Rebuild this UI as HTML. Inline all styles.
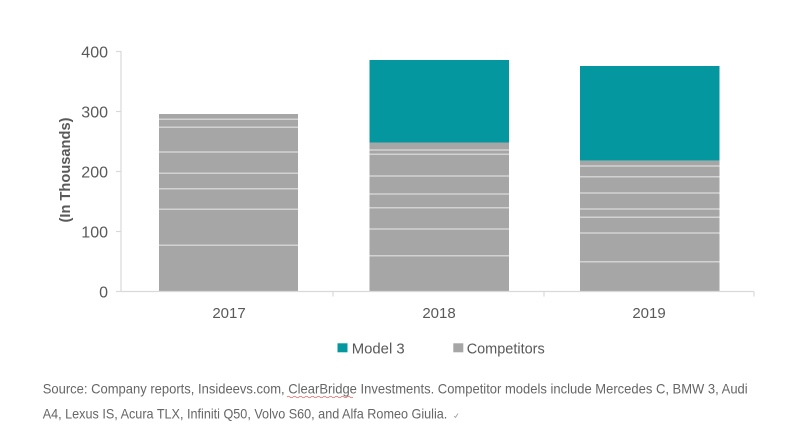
<!DOCTYPE html>
<html>
<head>
<meta charset="utf-8">
<style>
  html, body { margin:0; padding:0; background:#ffffff; }
  body { width:800px; height:447px; overflow:hidden; }
  svg { display:block; }
  text { font-family: "Liberation Sans", "DejaVu Sans", sans-serif; }
</style>
</head>
<body>
<svg width="800" height="447" viewBox="0 0 800 447" xmlns="http://www.w3.org/2000/svg">
  <rect x="0" y="0" width="800" height="447" fill="#ffffff"/>

  <!-- Y axis title -->
  <text x="0" y="0" transform="translate(70,170) rotate(-90)" text-anchor="middle" font-size="14.5" font-weight="bold" fill="#595959" textLength="105" lengthAdjust="spacingAndGlyphs">(In Thousands)</text>

  <!-- Y axis tick labels -->
  <g font-size="16" fill="#595959" text-anchor="end">
    <text x="108" y="57.5">400</text>
    <text x="108" y="117.5">300</text>
    <text x="108" y="177.5">200</text>
    <text x="108" y="237.5">100</text>
    <text x="108" y="297.5">0</text>
  </g>

  <!-- Bars -->
  <!-- 2017 -->
  <rect x="159" y="114" width="139" height="177" fill="#A6A6A6"/>
  <g stroke="#D2D2D2" stroke-width="1.5">
    <line x1="159" x2="298" y1="119.3" y2="119.3"/>
    <line x1="159" x2="298" y1="127.3" y2="127.3"/>
    <line x1="159" x2="298" y1="152" y2="152"/>
    <line x1="159" x2="298" y1="173.3" y2="173.3"/>
    <line x1="159" x2="298" y1="188.7" y2="188.7"/>
    <line x1="159" x2="298" y1="209.3" y2="209.3"/>
    <line x1="159" x2="298" y1="245.3" y2="245.3"/>
  </g>

  <!-- 2018 -->
  <rect x="369.5" y="60" width="139.5" height="82.5" fill="#05979F"/>
  <rect x="369.5" y="142.5" width="139.5" height="148.5" fill="#A6A6A6"/>
  <g stroke="#D2D2D2" stroke-width="1.5">
    <line x1="369.5" x2="509" y1="150" y2="150"/>
    <line x1="369.5" x2="509" y1="154.3" y2="154.3"/>
    <line x1="369.5" x2="509" y1="176" y2="176"/>
    <line x1="369.5" x2="509" y1="194" y2="194"/>
    <line x1="369.5" x2="509" y1="207.7" y2="207.7"/>
    <line x1="369.5" x2="509" y1="229" y2="229"/>
    <line x1="369.5" x2="509" y1="255.7" y2="255.7"/>
  </g>

  <!-- 2019 -->
  <rect x="580" y="66" width="139.5" height="94.7" fill="#05979F"/>
  <rect x="580" y="160.7" width="139.5" height="130.3" fill="#A6A6A6"/>
  <g stroke="#D2D2D2" stroke-width="1.5">
    <line x1="580" x2="719.5" y1="166" y2="166"/>
    <line x1="580" x2="719.5" y1="176.7" y2="176.7"/>
    <line x1="580" x2="719.5" y1="193" y2="193"/>
    <line x1="580" x2="719.5" y1="209" y2="209"/>
    <line x1="580" x2="719.5" y1="217.3" y2="217.3"/>
    <line x1="580" x2="719.5" y1="233" y2="233"/>
    <line x1="580" x2="719.5" y1="261.7" y2="261.7"/>
  </g>

  <!-- Axes -->
  <g stroke="#D9D9D9" stroke-width="1.2" fill="none">
    <line x1="121" y1="51" x2="121" y2="291.5"/>
    <line x1="116" y1="51.5" x2="121" y2="51.5"/>
    <line x1="116" y1="111.5" x2="121" y2="111.5"/>
    <line x1="116" y1="171.5" x2="121" y2="171.5"/>
    <line x1="116" y1="231.5" x2="121" y2="231.5"/>
    <line x1="116" y1="291.5" x2="121" y2="291.5"/>
    <line x1="121" y1="291.5" x2="754" y2="291.5"/>
    <line x1="333" y1="291.5" x2="333" y2="296.5"/>
    <line x1="544" y1="291.5" x2="544" y2="296.5"/>
    <line x1="754" y1="291.5" x2="754" y2="296.5"/>
  </g>

  <!-- X axis labels -->
  <g font-size="15" fill="#595959" text-anchor="middle">
    <text x="229" y="318">2017</text>
    <text x="439" y="318">2018</text>
    <text x="649" y="318">2019</text>
  </g>

  <!-- Legend -->
  <rect x="337.5" y="343.3" width="10" height="9" fill="#05979F"/>
  <text x="351.7" y="353.3" font-size="15" fill="#595959" textLength="53" lengthAdjust="spacingAndGlyphs">Model 3</text>
  <rect x="453.3" y="343.3" width="10" height="9" fill="#A6A6A6"/>
  <text x="466.7" y="353.3" font-size="15" fill="#595959" textLength="78" lengthAdjust="spacingAndGlyphs">Competitors</text>

  <!-- Source note -->
  <text x="42.7" y="393.3" font-size="14" fill="#666666" textLength="705" lengthAdjust="spacingAndGlyphs">Source: Company reports, Insideevs.com, ClearBridge Investments. Competitor models include Mercedes C, BMW 3, Audi</text>
  <path d="M287 397 q1.5 -1.5 3 0 t3 0 t3 0 t3 0 t3 0 t3 0 t3 0 t3 0 t3 0 t3 0 t3 0 t3 0 t3 0 t3 0 t3 0 t3 0 t3 0 t3 0 t3 0 t3 0 t3 0 t3 0" stroke="#E06060" stroke-width="0.8" fill="none"/>
  <text x="42.7" y="418.3" font-size="14" fill="#666666" textLength="404.6" lengthAdjust="spacingAndGlyphs">A4, Lexus IS, Acura TLX, Infiniti Q50, Volvo S60, and Alfa Romeo Giulia.</text>
  <path d="M454 416 l1.5 1.5 l2.5 -4" stroke="#999999" stroke-width="0.8" fill="none"/>
</svg>
</body>
</html>
